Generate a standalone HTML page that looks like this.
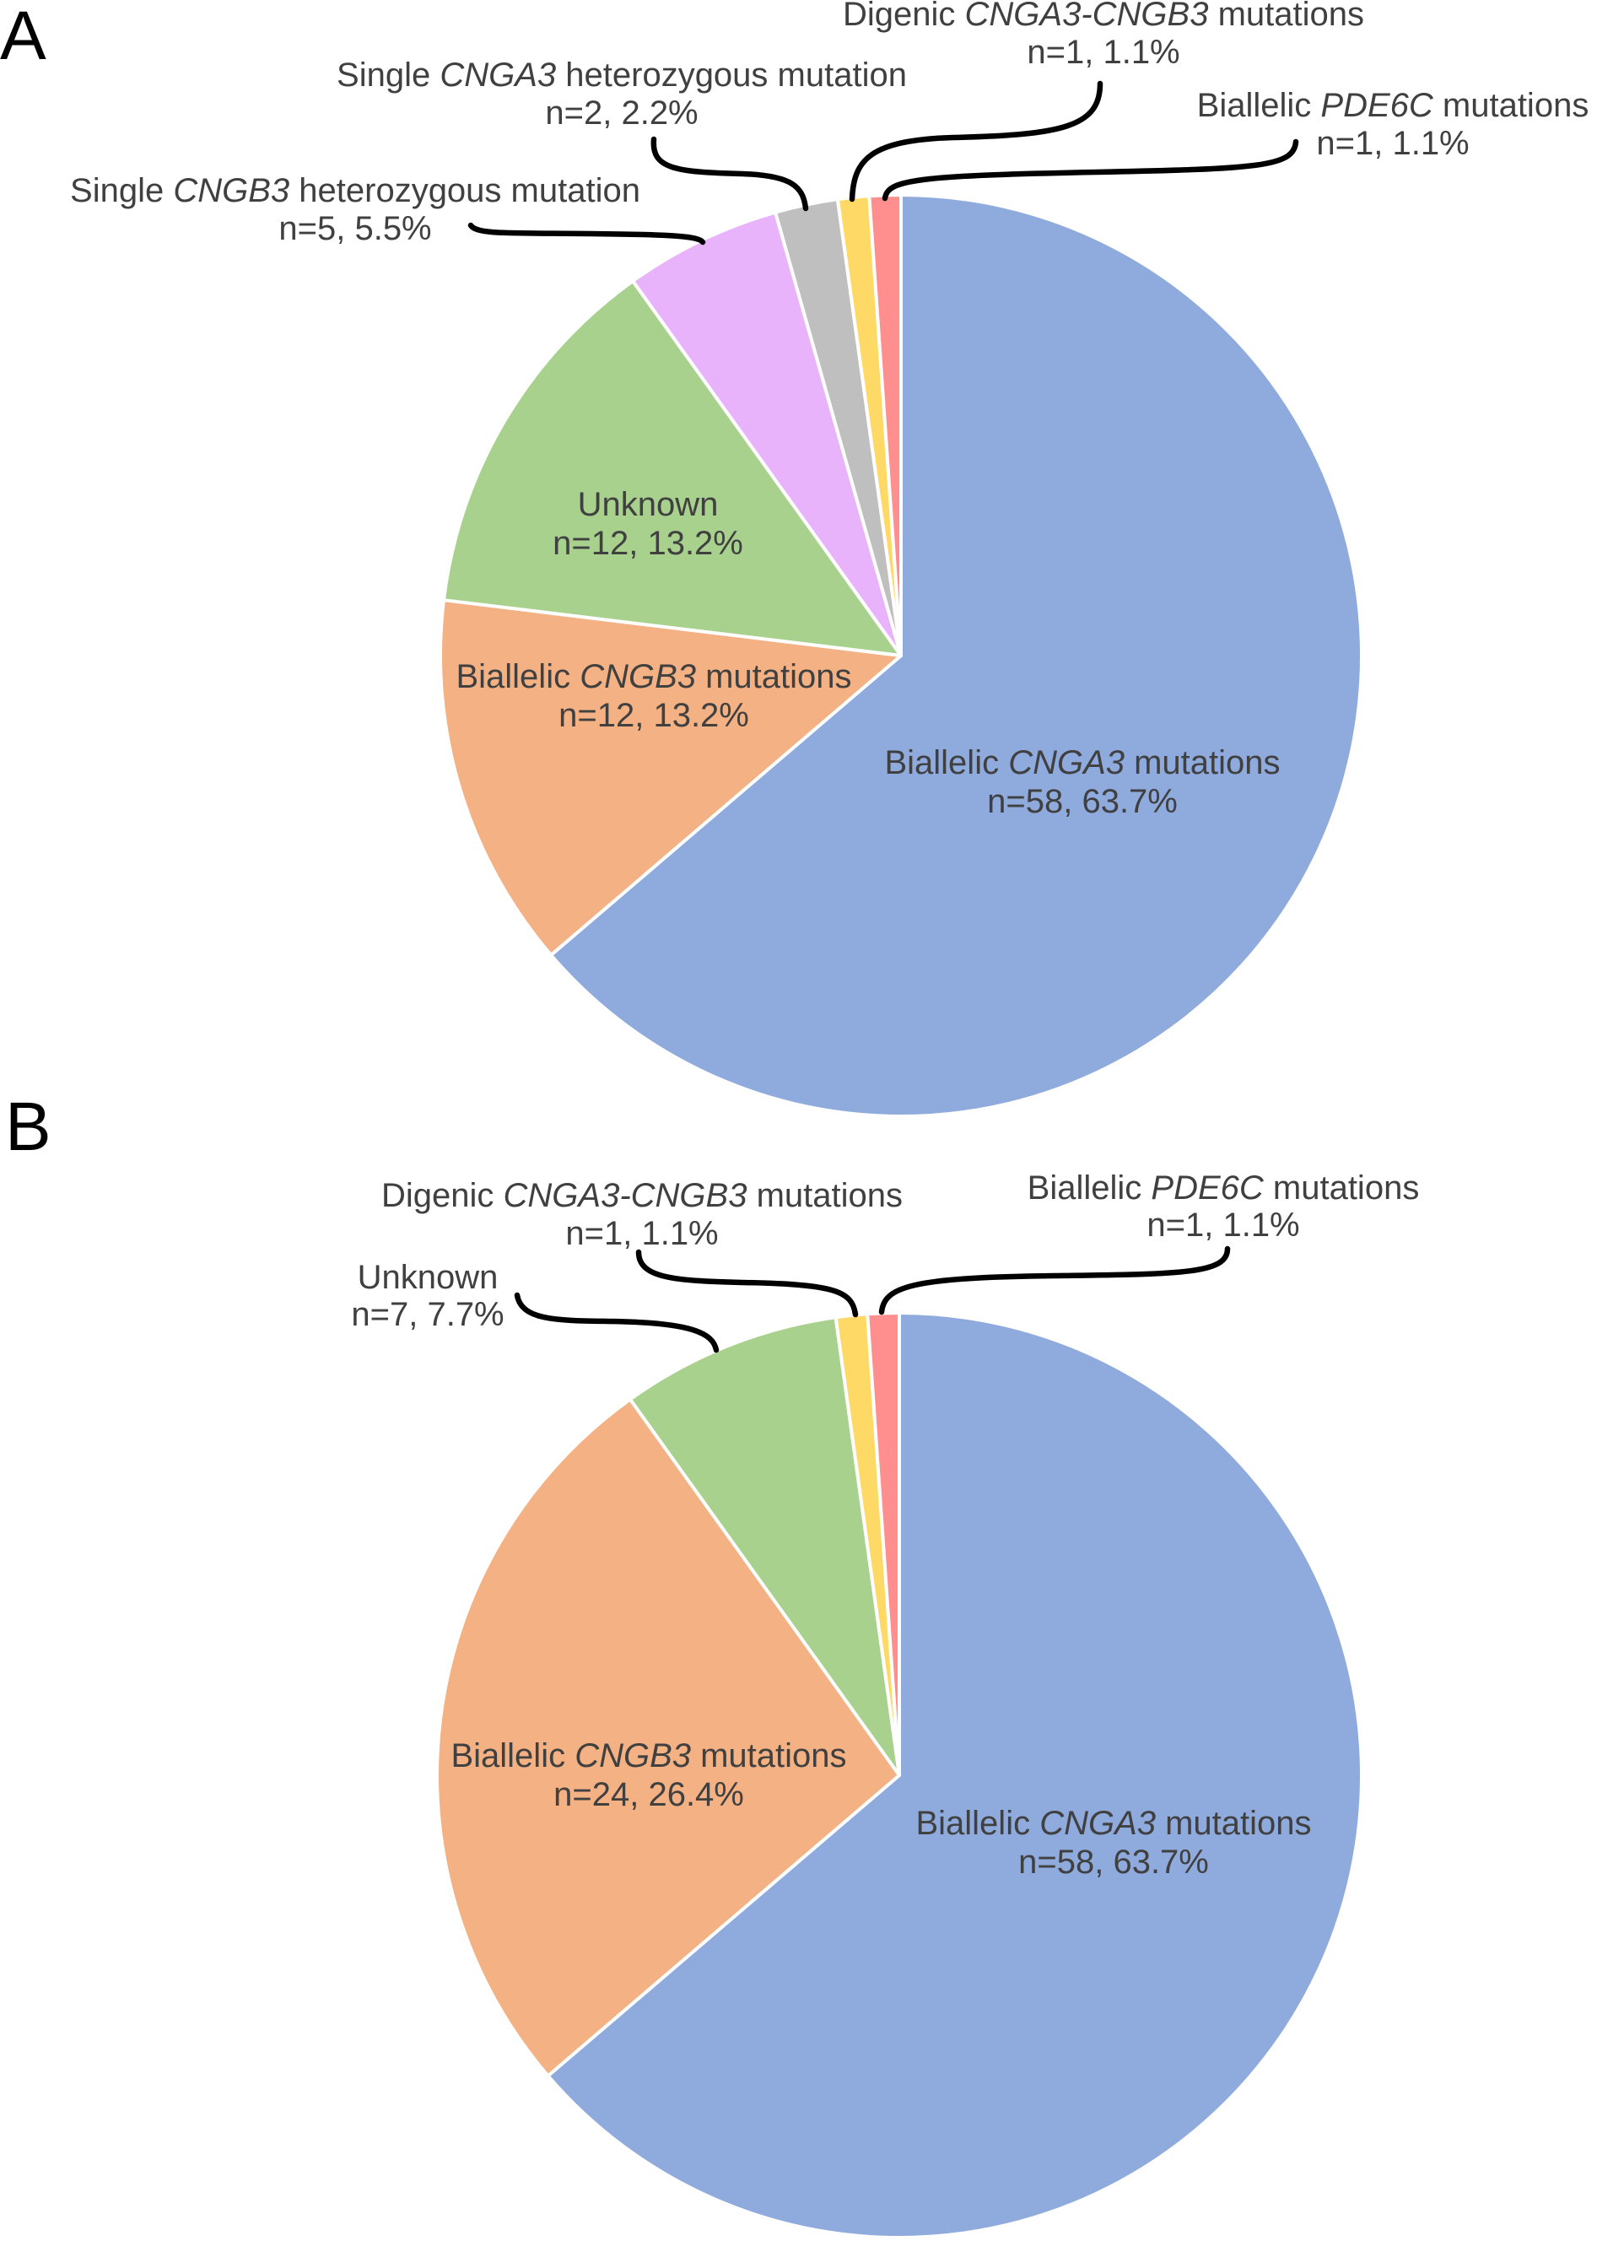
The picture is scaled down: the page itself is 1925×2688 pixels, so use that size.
<!DOCTYPE html>
<html><head><meta charset="utf-8">
<style>
html,body{margin:0;padding:0;background:#fff;}
svg{display:block;}
text{font-family:"Liberation Sans",Arial,sans-serif;fill:#404040;font-size:40px;}
.lbl{fill:#000;font-size:82px;}
</style></head>
<body>
<svg id="chart" width="1925" height="2688" viewBox="0 0 1925 2688" xmlns="http://www.w3.org/2000/svg">
<text class="lbl" x="0" y="70">A</text>
<text class="lbl" x="6" y="1363">B</text>
<g id="pieA"></g>
<g id="pieB"></g>
<g fill="none" stroke="#000" stroke-width="6.5" stroke-linecap="round">
<path d="M558 267 C565 278,600 276,700 277 C800 278,828 280,833 287"/>
<path d="M775 165 C772 200,800 204,880 206 C940 208,952 222,955 247"/>
<path d="M1304 99 C1304 150,1260 160,1130 163 C1030 166,1012 190,1010 236"/>
<path d="M1536 168 C1534 198,1490 200,1300 204 C1080 208,1052 214,1049 235"/>
<path d="M613 1535 C618 1565,660 1565,720 1566 C820 1567,845 1580,849 1600"/>
<path d="M757 1484 C757 1515,800 1518,880 1520 C990 1522,1010 1530,1014 1558"/>
<path d="M1455 1480 C1455 1510,1400 1510,1250 1512 C1080 1514,1048 1525,1045 1555"/>
</g>
<g text-anchor="middle" dominant-baseline="central">
<text x="1283" y="904">Biallelic <tspan font-style="italic">CNGA3</tspan> mutations</text>
<text x="1283" y="950">n=58, 63.7%</text>
<text x="775" y="802">Biallelic <tspan font-style="italic">CNGB3</tspan> mutations</text>
<text x="775" y="848">n=12, 13.2%</text>
<text x="768" y="598">Unknown</text>
<text x="768" y="644">n=12, 13.2%</text>
<text x="421" y="226">Single <tspan font-style="italic">CNGB3</tspan> heterozygous mutation</text>
<text x="421" y="271">n=5, 5.5%</text>
<text x="737" y="89">Single <tspan font-style="italic">CNGA3</tspan> heterozygous mutation</text>
<text x="737" y="134">n=2, 2.2%</text>
<text x="1308" y="17">Digenic <tspan font-style="italic">CNGA3-CNGB3</tspan> mutations</text>
<text x="1308" y="62">n=1, 1.1%</text>
<text x="1651" y="125">Biallelic <tspan font-style="italic">PDE6C</tspan> mutations</text>
<text x="1651" y="170">n=1, 1.1%</text>
</g>
<g text-anchor="middle" dominant-baseline="central">
<text x="1320" y="2161">Biallelic <tspan font-style="italic">CNGA3</tspan> mutations</text>
<text x="1320" y="2207">n=58, 63.7%</text>
<text x="769" y="2081">Biallelic <tspan font-style="italic">CNGB3</tspan> mutations</text>
<text x="769" y="2127">n=24, 26.4%</text>
<text x="507" y="1514">Unknown</text>
<text x="507" y="1558">n=7, 7.7%</text>
<text x="761" y="1417">Digenic <tspan font-style="italic">CNGA3-CNGB3</tspan> mutations</text>
<text x="761" y="1462">n=1, 1.1%</text>
<text x="1450" y="1408">Biallelic <tspan font-style="italic">PDE6C</tspan> mutations</text>
<text x="1450" y="1452">n=1, 1.1%</text>
</g>
</svg>
<script>
const categoriesA = ["Biallelic CNGA3","Biallelic CNGB3","Unknown","Single CNGB3","Single CNGA3","Digenic CNGA3-CNGB3","Biallelic PDE6C"];
const valuesA = [58, 12, 12, 5, 2, 1, 1];
const colorsA = ["#8faadc","#f4b183","#a9d18e","#e9b3fc","#bfbfbf","#ffd966","#ff8f8f"];
const categoriesB = ["Biallelic CNGA3","Biallelic CNGB3","Unknown","Digenic CNGA3-CNGB3","Biallelic PDE6C"];
const valuesB = [58, 24, 7, 1, 1];
const colorsB = ["#8faadc","#f4b183","#a9d18e","#ffd966","#ff8f8f"];
const NS = "http://www.w3.org/2000/svg";
function drawPie(gid, cats, vals, cols, cx, cy, r, prefix) {
  const g = document.getElementById(gid);
  const total = vals.reduce((a,b)=>a+b,0);
  let a0 = 0;
  vals.forEach((v,i)=>{
    const a1 = a0 + v/total*2*Math.PI;
    const x0 = cx + r*Math.sin(a0), y0 = cy - r*Math.cos(a0);
    const x1 = cx + r*Math.sin(a1), y1 = cy - r*Math.cos(a1);
    const large = (a1-a0) > Math.PI ? 1 : 0;
    const p = document.createElementNS(NS,"path");
    p.setAttribute("d", `M${cx} ${cy} L${x0} ${y0} A${r} ${r} 0 ${large} 1 ${x1} ${y1} Z`);
    p.setAttribute("fill", cols[i]);
    p.setAttribute("stroke", "#fff");
    p.setAttribute("stroke-width", "4");
    p.setAttribute("stroke-linejoin", "round");
    
    
    g.appendChild(p);
    a0 = a1;
  });
}
drawPie("pieA", categoriesA, valuesA, colorsA, 1068, 777, 546, "pie-a");
drawPie("pieB", categoriesB, valuesB, colorsB, 1066, 2104, 548, "pie-b");
</script>
</body></html>
